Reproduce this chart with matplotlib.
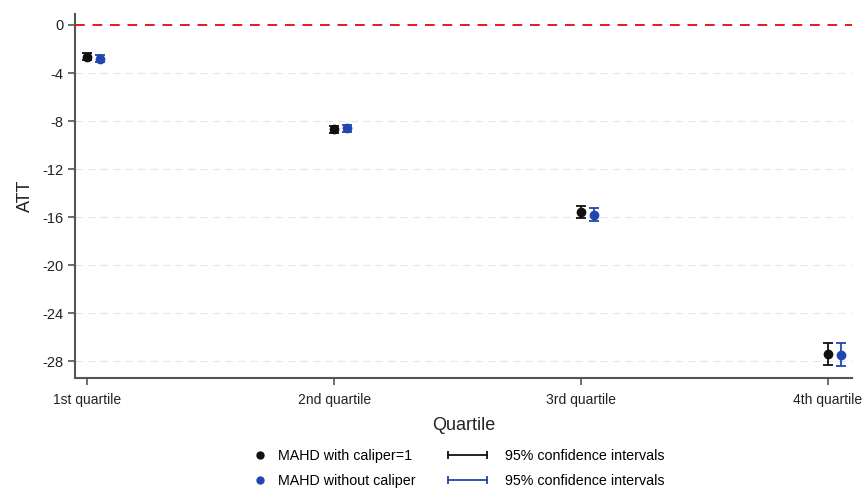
import matplotlib
matplotlib.use("Agg")
import matplotlib.pyplot as plt
from matplotlib.lines import Line2D
from matplotlib.legend_handler import HandlerLine2D
import numpy as np

plt.rcParams['font.family'] = ['Liberation Sans', 'DejaVu Sans']

categories = ["1st quartile", "2nd quartile", "3rd quartile", "4th quartile"]
att_caliper = [-2.65, -8.68, -15.55, -27.4]
ci_caliper = [0.28, 0.28, 0.5, 0.9]
att_nocaliper = [-2.8, -8.6, -15.8, -27.45]
ci_nocaliper = [0.28, 0.28, 0.55, 0.95]
yticks = [0, -4, -8, -12, -16, -20, -24, -28]

black = "#111111"
blue = "#2146b0"
axis_grey = "#555555"

fig = plt.figure(figsize=(8.64, 4.88), dpi=100)
ax = fig.add_axes([0.087, 0.225, 0.899, 0.746])

x = np.arange(1, len(categories) + 1)
offset = 0.052

ax.errorbar(x, att_caliper, yerr=ci_caliper, fmt='o', color=black, ms=6,
            capsize=3.5, elinewidth=1.3, capthick=1.3, zorder=4)
ax.errorbar(x + offset, att_nocaliper, yerr=ci_nocaliper, fmt='o', color=blue,
            ms=6, capsize=3.5, elinewidth=1.3, capthick=1.3, zorder=4)

ax.axhline(0, color="#e8191c", lw=1.4, ls=(0, (5, 4)), zorder=3)

for yt in yticks[1:]:
    ax.axhline(yt, color="#e2e8ee", lw=0.9, ls=(0, (6, 4)), zorder=1)

ax.set_xlim(0.951, 4.097)
ax.set_ylim(-29.4, 0.9)
ax.set_xticks(x)
ax.set_xticklabels(categories, fontsize=10)
ax.set_yticks(yticks)
ax.set_yticklabels([str(v) for v in yticks], fontsize=10.5)

for side in ("top", "right"):
    ax.spines[side].set_visible(False)
for side in ("left", "bottom"):
    ax.spines[side].set_color(axis_grey)
    ax.spines[side].set_linewidth(1.5)
ax.tick_params(axis='both', colors=axis_grey, length=5, width=1.2,
               labelcolor="#222222")
ax.tick_params(axis='x', pad=6)

ax.set_ylabel("ATT", fontsize=13, color="#222222", labelpad=6)
ax.set_xlabel("Quartile", fontsize=13, color="#222222", labelpad=7)

# Legend: marker entries and confidence-interval entries as two columns
h_dot_black = Line2D([], [], ls='none', marker='o', color=black, ms=5)
h_dot_blue = Line2D([], [], ls='none', marker='o', color=blue, ms=5)
h_ci_black = Line2D([], [], color=black, lw=1.3, marker='|', ms=6, mew=1.3)
h_ci_blue = Line2D([], [], color=blue, lw=1.3, marker='|', ms=6, mew=1.3)

common = dict(frameon=False, fontsize=10.3, labelspacing=0.75,
              borderpad=0.0, borderaxespad=0.0)

fig.legend(
    [h_dot_black, h_dot_blue],
    ["MAHD with caliper=1", "MAHD without caliper"],
    loc="upper left", bbox_to_anchor=(0.2965, 0.079),
    handlelength=0.6, handletextpad=0.9,
    handler_map={h_dot_black: HandlerLine2D(numpoints=1),
                 h_dot_blue: HandlerLine2D(numpoints=1)},
    **common,
)
fig.legend(
    [h_ci_black, h_ci_blue],
    ["95% confidence intervals", "95% confidence intervals"],
    loc="upper left", bbox_to_anchor=(0.514, 0.079),
    handlelength=3.3, handletextpad=0.95,
    handler_map={h_ci_black: HandlerLine2D(numpoints=2),
                 h_ci_blue: HandlerLine2D(numpoints=2)},
    **common,
)

fig.savefig("out.png", dpi=100)
